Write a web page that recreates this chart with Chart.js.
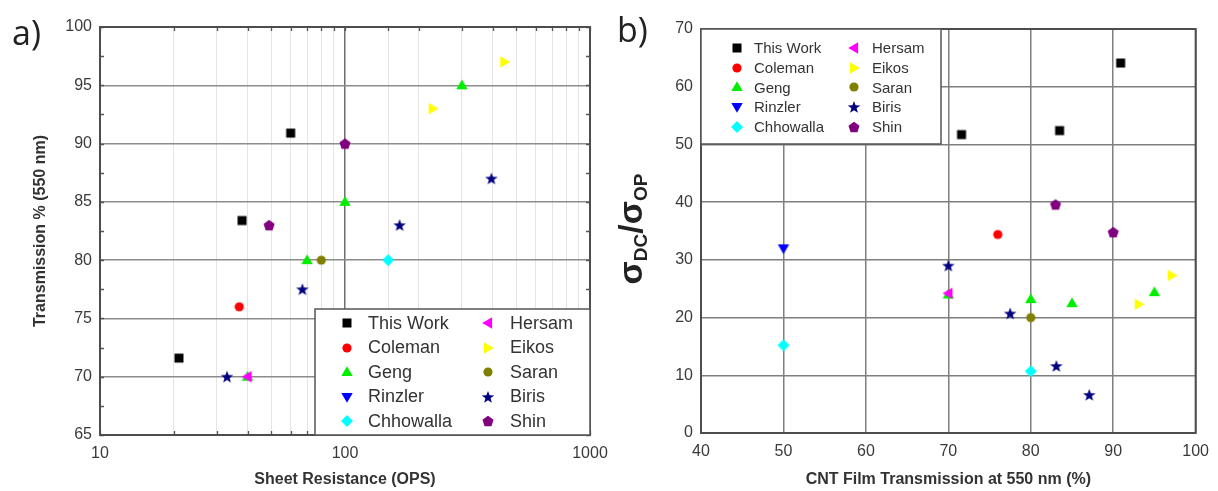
<!DOCTYPE html>
<html><head><meta charset="utf-8">
<script src="https://cdn.jsdelivr.net/npm/chart.js@4/dist/chart.umd.min.js"></script>
<style>
html,body{margin:0;padding:0;background:#fff;width:1218px;height:491px;overflow:hidden;position:relative;}
canvas{position:absolute;top:0;}
#ca{left:0;}
#cb{left:600px;}
.lbl{position:absolute;font-family:"Open Sans",sans-serif;font-size:34px;color:#222;line-height:34px;}
</style></head><body>
<canvas id="ca" width="620" height="491"></canvas>
<canvas id="cb" width="618" height="491"></canvas>
<div class="lbl" style="left:12px;top:15px">a)</div>
<div class="lbl" style="left:617px;top:12px">b)</div>
<script>
// ---------- data ----------
const seriesNames = ['This Work','Coleman','Geng','Rinzler','Chhowalla','Hersam','Eikos','Saran','Biris','Shin'];

// panel a) sheet resistance (OPS) vs transmission %
const aThisWorkR = [21, 38, 60],        aThisWorkT = [71.6, 83.4, 90.9];
const aColemanR  = [37],                aColemanT  = [76];
const aGengR     = [40, 70, 100, 300],  aGengT     = [70, 80, 85, 95];
const aRinzlerR  = [],                  aRinzlerT  = [];
const aChhowallaR= [150],               aChhowallaT= [80];
const aHersamR   = [40],                aHersamT   = [70];
const aEikosR    = [228, 447],          aEikosT    = [93, 97];
const aSaranR    = [80],                aSaranT    = [80];
const aBirisR    = [33, 67, 167, 396],  aBirisT    = [70, 77.5, 83, 87];
const aShinR     = [49, 100],           aShinT     = [83, 90];

// panel b) transmission % vs sigma_DC/sigma_OP
const bThisWorkT = [71.6, 83.5, 90.9],  bThisWorkS = [51.7, 52.4, 64.1];
const bColemanT  = [76],                bColemanS  = [34.4];
const bGengT     = [70, 80, 85, 95],    bGengS     = [24.0, 23.2, 22.5, 24.4];
const bRinzlerT  = [50],                bRinzlerS  = [32];
const bChhowallaT= [50, 80],            bChhowallaS= [15.2, 10.7];
const bHersamT   = [70],                bHersamS   = [24.2];
const bEikosT    = [93.1, 97.1],        bEikosS    = [22.3, 27.3];
const bSaranT    = [80],                bSaranS    = [20];
const bBirisT    = [70, 77.5, 83.1, 87.1], bBirisS = [29, 20.7, 11.6, 6.6];
const bShinT     = [83, 90],            bShinS     = [39.6, 34.8];

const aXs = [aThisWorkR,aColemanR,aGengR,aRinzlerR,aChhowallaR,aHersamR,aEikosR,aSaranR,aBirisR,aShinR];
const aYs = [aThisWorkT,aColemanT,aGengT,aRinzlerT,aChhowallaT,aHersamT,aEikosT,aSaranT,aBirisT,aShinT];
const bXs = [bThisWorkT,bColemanT,bGengT,bRinzlerT,bChhowallaT,bHersamT,bEikosT,bSaranT,bBirisT,bShinT];
const bYs = [bThisWorkS,bColemanS,bGengS,bRinzlerS,bChhowallaS,bHersamS,bEikosS,bSaranS,bBirisS,bShinS];

const aXTicks = [10, 100, 1000];

// ---------- marker images ----------
function poly(g, cx, cy, radii, n, start){
  for(let k=0;k<n;k++){
    const a = start + k*2*Math.PI/n;
    const r = radii[k%radii.length];
    const px = cx + r*Math.cos(a), py = cy + r*Math.sin(a);
    if(k===0) g.moveTo(px,py); else g.lineTo(px,py);
  }
  g.closePath();
}
function mk(shape, color){
  const s = 16, c = document.createElement('canvas'); c.width=s; c.height=s;
  const g = c.getContext('2d'); g.fillStyle=color; const m=s/2;
  g.beginPath();
  if(shape==='square') g.rect(m-4.5,m-4.5,9,9);
  else if(shape==='circle') g.arc(m,m,4.6,0,2*Math.PI);
  else if(shape==='up') poly(g,m,m+0.8,[6.6],3,-Math.PI/2);
  else if(shape==='down') poly(g,m,m-0.8,[6.6],3,Math.PI/2);
  else if(shape==='left') poly(g,m+0.8,m,[6.6],3,Math.PI);
  else if(shape==='right') poly(g,m-0.8,m,[6.6],3,0);
  else if(shape==='diamond') poly(g,m,m,[6],4,-Math.PI/2);
  else if(shape==='star') poly(g,m,m+0.5,[6.6,2.7],10,-Math.PI/2);
  else if(shape==='pent') poly(g,m,m+0.5,[5.8],5,-Math.PI/2);
  g.fill();
  return c;
}
const markers = [
  mk('square','#000000'), mk('circle','#ff0000'), mk('up','#00ee00'), mk('down','#0000ff'),
  mk('diamond','#00ffff'), mk('left','#ff00ff'), mk('right','#ffff00'), mk('circle','#808000'),
  mk('star','#000080'), mk('pent','#800080')
];

function buildDatasets(xs, ys){
  return seriesNames.map((n,i)=>({
    label:n,
    data: xs[i].map((x,j)=>({x:x, y:ys[i][j]})),
    pointStyle: markers[i],
    showLine:false,
    order: n==='Geng' ? 1 : 0
  }));
}

const FAM = '"Liberation Sans", Arial, sans-serif';
const TICKC = '#3a3a3a';

// ---------- plugins ----------
const framePlugin = {
  id:'frame',
  beforeDatasetsDraw(chart, args, o){
    const ctx = chart.ctx, a = chart.chartArea;
    ctx.save();
    ctx.strokeStyle = '#555'; ctx.lineWidth = 1.3;
    if(o.xTicks){
      chart.scales.x.ticks.forEach(t=>{
        const px = Math.round(chart.scales.x.getPixelForValue(t.value))+0.5;
        ctx.beginPath(); ctx.moveTo(px,a.top); ctx.lineTo(px,a.top+4);
        ctx.moveTo(px,a.bottom); ctx.lineTo(px,a.bottom-4); ctx.stroke();
      });
    }
    if(o.yStep){
      const y = chart.scales.y;
      for(let v=y.min; v<=y.max+1e-9; v+=o.yStep){
        const py = Math.round(y.getPixelForValue(v))+0.5;
        ctx.beginPath(); ctx.moveTo(a.left,py); ctx.lineTo(a.left+4,py);
        ctx.moveTo(a.right,py); ctx.lineTo(a.right-4,py); ctx.stroke();
      }
    }
    ctx.strokeStyle = '#4d4d4d'; ctx.lineWidth = 2;
    ctx.strokeRect(a.left, a.top, a.right-a.left, a.bottom-a.top);
    ctx.restore();
  }
};

const boxLegend = {
  id:'boxLegend',
  afterDraw(chart, args, o){
    const ctx = chart.ctx;
    ctx.save();
    ctx.fillStyle = '#fff';
    ctx.fillRect(o.x0, o.y0, o.x1-o.x0, o.y1-o.y0);
    ctx.strokeStyle = '#555'; ctx.lineWidth = 1.5;
    ctx.strokeRect(o.x0, o.y0, o.x1-o.x0, o.y1-o.y0);
    ctx.font = o.fontSize + 'px ' + FAM;
    ctx.textBaseline = 'middle'; ctx.textAlign = 'left';
    chart.data.datasets.forEach((ds,i)=>{
      const col = Math.floor(i/5), row = i%5;
      const y = o.rowY0 + row*o.rowStep;
      const img = ds.pointStyle;
      ctx.drawImage(img, Math.round(o.markX[col]-img.width/2), Math.round(y-img.height/2));
      ctx.fillStyle = '#333';
      ctx.fillText(ds.label, o.textX[col], y+1);
    });
    ctx.restore();
  }
};

const sigmaTitle = {
  id:'sigmaTitle',
  afterDraw(chart, args, o){
    const ctx = chart.ctx;
    ctx.save();
    ctx.translate(o.cx, o.cy);
    ctx.rotate(-Math.PI/2);
    ctx.fillStyle = '#222';
    const big = 'bold 34px ' + FAM, small = 'bold 19px ' + FAM;
    const parts = [['σ',big,0],['DC',small,5],['/',big,0],['σ',big,0],['OP',small,5]];
    let total = 0;
    parts.forEach(p=>{ ctx.font=p[1]; total += ctx.measureText(p[0]).width; });
    let x = -total/2;
    ctx.textBaseline = 'alphabetic';
    parts.forEach(p=>{ ctx.font=p[1]; ctx.fillText(p[0], x, o.base + p[2]); x += ctx.measureText(p[0]).width; });
    ctx.restore();
  }
};

// ---------- chart a ----------
new Chart(document.getElementById('ca'), {
  type:'scatter',
  data:{ datasets: buildDatasets(aXs, aYs) },
  plugins:[framePlugin, boxLegend],
  options:{
    responsive:false, animation:false, events:[],
    layout:{ padding:{left:31, right:30, top:27, bottom:2} },
    plugins:{
      legend:{display:false}, tooltip:{enabled:false},
      frame:{ xTicks:true, yStep:2.5 },
      boxLegend:{ x0:315, y0:309, x1:590, y1:435, markX:[347,488], textX:[368,510], rowY0:323, rowStep:24.5, fontSize:18 }
    },
    scales:{
      x:{
        type:'logarithmic', min:10, max:1000,
        afterFit:s=>{ s.height = 54; },
        border:{display:false},
        grid:{
          drawTicks:false,
          color:c=>{ const v=c.tick.value; if(Math.abs(v-100)<1e-6) return '#6e6e6e'; if(Math.abs(v-10)<1e-6||Math.abs(v-1000)<1e-6) return 'rgba(0,0,0,0)'; return '#e4e4e4'; },
          lineWidth:c=>{ const v=c.tick.value; return Math.abs(v-100)<1e-6 ? 1.5 : 1; }
        },
        ticks:{
          autoSkip:false, maxRotation:0, padding:9, color:TICKC, font:{size:16, family:FAM},
          callback:v=> aXTicks.some(t=>Math.abs(t-v)<1e-6) ? String(Math.round(v)) : ''
        },
        title:{ display:true, text:'Sheet Resistance (OPS)', color:'#333', padding:0, font:{size:16, weight:'bold', family:FAM} }
      },
      y:{
        min:65, max:100,
        afterFit:s=>{ s.width = 69; },
        border:{display:false},
        grid:{ drawTicks:false, color:'#8c8c8c', lineWidth:1.5 },
        ticks:{ stepSize:5, padding:8, color:TICKC, font:{size:16, family:FAM} },
        title:{ display:true, text:'Transmission % (550 nm)', color:'#333', padding:0, font:{size:16, weight:'bold', family:FAM} }
      }
    }
  }
});

// ---------- chart b ----------
new Chart(document.getElementById('cb'), {
  type:'scatter',
  data:{ datasets: buildDatasets(bXs, bYs) },
  plugins:[framePlugin, boxLegend, sigmaTitle],
  options:{
    responsive:false, animation:false, events:[],
    layout:{ padding:{left:0, right:19, top:29, bottom:2} },
    plugins:{
      legend:{display:false}, tooltip:{enabled:false},
      frame:{ xTicks:false, yStep:0 },
      boxLegend:{ x0:101, y0:29, x1:341, y1:144, markX:[137,254], textX:[154,272], rowY0:48, rowStep:19.7, fontSize:15 },
      sigmaTitle:{ cx:33, cy:229, base:9 }
    },
    scales:{
      x:{
        min:40, max:100,
        afterFit:s=>{ s.height = 56; },
        border:{display:false},
        grid:{ drawTicks:false, color:'#7f7f7f', lineWidth:1.5 },
        ticks:{ stepSize:10, maxRotation:0, padding:9, color:TICKC, font:{size:16, family:FAM} },
        title:{ display:true, text:'CNT Film Transmission at 550 nm (%)', color:'#333', padding:0, font:{size:16, weight:'bold', family:FAM} }
      },
      y:{
        min:0, max:70,
        afterFit:s=>{ s.width = 101; },
        border:{display:false},
        grid:{ drawTicks:false, color:'#7f7f7f', lineWidth:1.5 },
        ticks:{ stepSize:10, padding:8, color:TICKC, font:{size:16, family:FAM} },
        title:{ display:false }
      }
    }
  }
});
</script>
</body></html>
